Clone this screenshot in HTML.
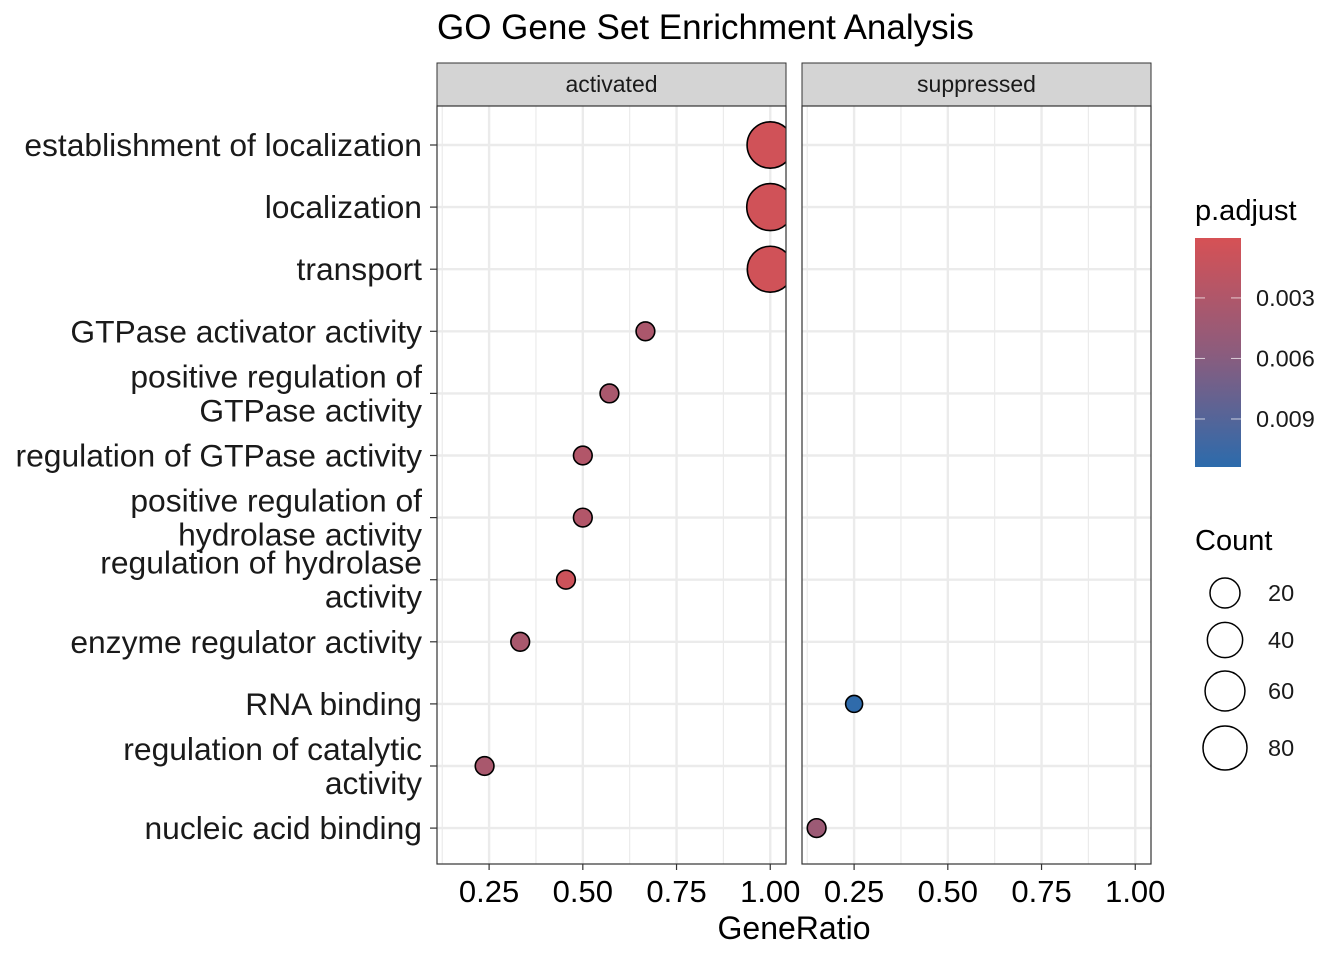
<!DOCTYPE html>
<html><head><meta charset="utf-8"><style>
body{margin:0;background:#fff;}
svg text{font-family:"Liberation Sans",Arial,sans-serif;}
</style></head><body>
<svg id="chart" width="1344" height="960" xmlns="http://www.w3.org/2000/svg">
<defs><linearGradient id="cbar" x1="0" y1="0" x2="0" y2="1">
<stop offset="0" stop-color="rgb(214,81,85)"/><stop offset="0.5" stop-color="rgb(140,92,125)"/><stop offset="1" stop-color="rgb(44,107,172)"/></linearGradient>
<clipPath id="clip1"><rect x="437" y="106" width="349" height="758"/></clipPath>
<clipPath id="clip2"><rect x="802" y="106" width="348" height="758"/></clipPath></defs>
<text x="437" y="39" font-size="35" fill="#000">GO Gene Set Enrichment Analysis</text>
<g id="plot"></g>
</svg>
<script>
const categories = ["establishment of localization","localization","transport","GTPase activator activity","positive regulation of\nGTPase activity","regulation of GTPase activity","positive regulation of\nhydrolase activity","regulation of hydrolase\nactivity","enzyme regulator activity","RNA binding","regulation of catalytic\nactivity","nucleic acid binding"];
const panels = ["activated","suppressed"];
const ptCategory = ["establishment of localization","localization","transport","GTPase activator activity","positive regulation of\nGTPase activity","regulation of GTPase activity","positive regulation of\nhydrolase activity","regulation of hydrolase\nactivity","enzyme regulator activity","regulation of catalytic\nactivity","RNA binding","nucleic acid binding"];
const ptPanel = [0,0,0,0,0,0,0,0,0,0,1,1];
const geneRatio = [1.0,1.0,1.0,0.667,0.571,0.5,0.5,0.455,0.333,0.238,0.25,0.15];
const counts = [92,95,90,4,4,4,4,4,4,4,1,4];
const padjust = [0.0005,0.0005,0.0005,0.0033,0.0035,0.0028,0.0028,0.0008,0.0035,0.0035,0.0112,0.0045];
const xTicks = [0.25,0.5,0.75,1.0];
const xTickLabels = ["0.25","0.50","0.75","1.00"];
const pTicks = [0.003,0.006,0.009];
const pTickLabels = ["0.003","0.006","0.009"];
const legendCounts = [20,40,60,80];

const NS="http://www.w3.org/2000/svg";
const g=document.getElementById('plot');
function el(t,a,p){const e=document.createElementNS(NS,t);for(const k in a)e.setAttribute(k,a[k]);(p||g).appendChild(e);return e;}
const panelX=[437,802], panelW=349, pTop=106, pBottom=864;
const dMin=0.111, dMax=1.042;
function xs(v,p){return panelX[p]+(v-dMin)/(dMax-dMin)*panelW;}
function ys(i){return 145+i*62.1;}
const cMin=1,cMax=95;
function rs(c){return Math.sqrt(72+(c-cMin)/(cMax-cMin)*(552-72));}
const pMin=0.00003,pMax=0.01138;
function col(p){const t=Math.max(0,Math.min(1,(p-pMin)/(pMax-pMin)));
 const a=[214,81,85],m=[140,92,125],b=[44,107,172];let r;
 if(t<0.5){const u=t/0.5;r=a.map((v,i)=>v+(m[i]-v)*u);}else{const u=(t-0.5)/0.5;r=m.map((v,i)=>v+(b[i]-v)*u);}
 return `rgb(${r.map(Math.round).join(',')})`;}

panels.forEach((name,p)=>{
 const pg=el('g',{});
 
 
 const strip=el('rect',{x:panelX[p],y:63,width:panelW,height:43,fill:'#d4d4d4',stroke:'#333','stroke-width':1},pg);
 
 
 const st=el('text',{x:panelX[p]+panelW/2,y:92,'font-size':23,'text-anchor':'middle',fill:'#1a1a1a'},pg);st.textContent=name;
 
 
 el('rect',{x:panelX[p],y:pTop,width:panelW,height:pBottom-pTop,fill:'#fff'},pg);
 for(let i=0;i<xTicks.length-1;i++){const m=(xTicks[i]+xTicks[i+1])/2;const x=xs(m,p);
  el('line',{x1:x,x2:x,y1:pTop,y2:pBottom,stroke:'#ebebeb','stroke-width':1.2},pg);}
 const mm=xTicks[0]-0.125;if(mm>dMin){const x=xs(mm,p);el('line',{x1:x,x2:x,y1:pTop,y2:pBottom,stroke:'#ebebeb','stroke-width':1.2},pg);}
 xTicks.forEach((v,i)=>{const x=xs(v,p);
  el('line',{x1:x,x2:x,y1:pTop,y2:pBottom,stroke:'#ebebeb','stroke-width':2.4},pg);
  el('line',{x1:x,x2:x,y1:pBottom,y2:pBottom+6,stroke:'#333','stroke-width':1.2},pg);
  const t=el('text',{x:x,y:pBottom+38,'font-size':31,'text-anchor':'middle',fill:'#000'},pg);t.textContent=xTickLabels[i];
  
  });
 categories.forEach((c,i)=>{el('line',{x1:panelX[p],x2:panelX[p]+panelW,y1:ys(i),y2:ys(i),stroke:'#ebebeb','stroke-width':2.4},pg);});
 const pts=el('g',{'clip-path':`url(#clip${p+1})`},pg);
 ptCategory.forEach((c,k)=>{if(ptPanel[k]!==p)return;const i=categories.indexOf(c);
  const ci=el('circle',{cx:xs(geneRatio[k],p),cy:ys(i),r:rs(counts[k]),fill:col(padjust[k]),stroke:'#000','stroke-width':1.6},pts);
  
  });
 el('rect',{x:panelX[p],y:pTop,width:panelW,height:pBottom-pTop,fill:'none',stroke:'#333','stroke-width':1.2},pg);
});
categories.forEach((c,i)=>{const y=ys(i);
 el('line',{x1:430,x2:437,y1:y,y2:y,stroke:'#333','stroke-width':1.2});
 const lines=c.split('\n');
 const t=el('text',{x:422,'font-size':31.8,'text-anchor':'end',fill:'#1a1a1a'});
 
 
 lines.forEach((l,j)=>{const s=el('tspan',{x:422,y:y+11+(j-(lines.length-1)/2)*34},t);s.textContent=l;});
});
const xt=el('text',{x:794,y:939,'font-size':32,'text-anchor':'middle',fill:'#000'});xt.textContent='GeneRatio';


const lt=el('text',{x:1195,y:220,'font-size':29,fill:'#000'});lt.textContent='p.adjust';


const cb=el('rect',{x:1195,y:238,width:46,height:229,fill:'url(#cbar)'});


function cy(p){return 238+(p-pMin)/(pMax-pMin)*229;}
pTicks.forEach((v,i)=>{const y=cy(v);
 el('line',{x1:1195,x2:1205,y1:y,y2:y,stroke:'#fff','stroke-width':1,'stroke-opacity':0.7});
 el('line',{x1:1231,x2:1241,y1:y,y2:y,stroke:'#fff','stroke-width':1,'stroke-opacity':0.7});
 const t=el('text',{x:1256,y:y+8,'font-size':23.5,fill:'#1a1a1a'});t.textContent=pTickLabels[i];
 
 });
const st2=el('text',{x:1195,y:550,'font-size':29,fill:'#000'});st2.textContent='Count';


const ly=[593,640,691,748];
legendCounts.forEach((c,i)=>{const r=Math.sqrt(138.7+4.317*c);
 const ci=el('circle',{cx:1225,cy:ly[i],r:r,fill:'none',stroke:'#000','stroke-width':1.5});
 
 
 const t=el('text',{x:1268,y:ly[i]+8,'font-size':23.5,fill:'#1a1a1a'});t.textContent=String(c);
 
 });
</script>
</body></html>
